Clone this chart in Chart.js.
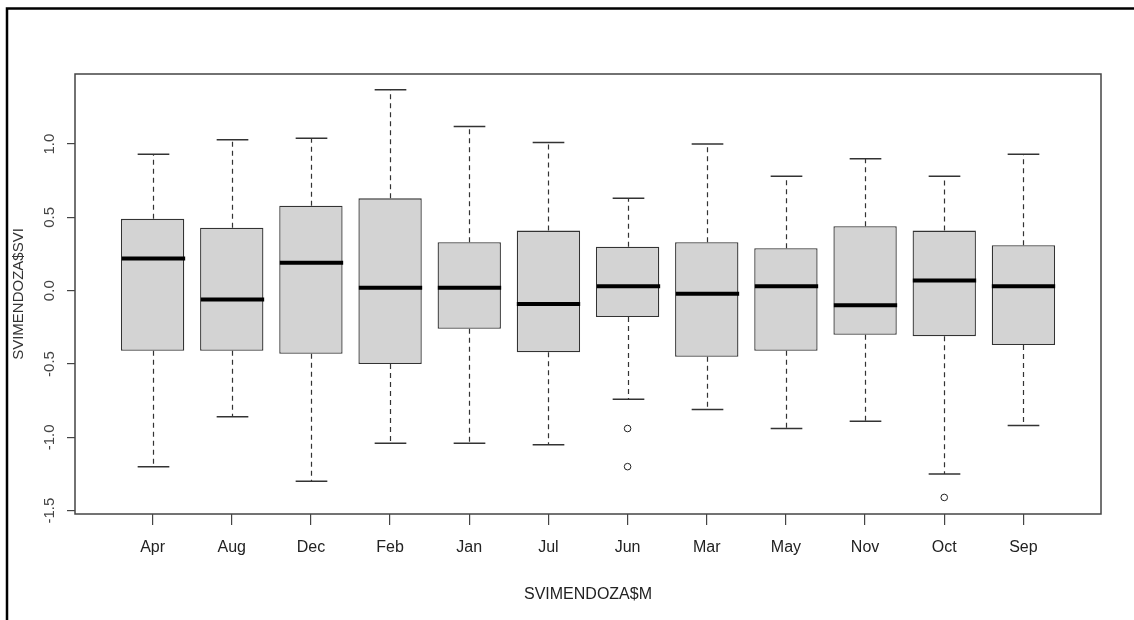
<!DOCTYPE html>
<html>
<head>
<meta charset="utf-8">
<title>SVIMENDOZA boxplot</title>
<script src="https://cdn.jsdelivr.net/npm/chart.js@4.4.0/dist/chart.umd.min.js"></script>
<style>
  html, body { margin: 0; padding: 0; background: #fff; }
  #wrap { width: 1134px; height: 620px; }
</style>
</head>
<body>
<div id="wrap"><canvas id="chart" width="1134" height="620"></canvas></div>
<script>
// monthly SVI distribution
var months = ["Apr", "Aug", "Dec", "Feb", "Jan", "Jul", "Jun", "Mar", "May", "Nov", "Oct", "Sep"];
var whiskerLow  = [-1.20, -0.86, -1.30, -1.04, -1.04, -1.05, -0.74, -0.81, -0.94, -0.89, -1.25, -0.92];
var q1          = [-0.41, -0.41, -0.43, -0.50, -0.26, -0.42, -0.18, -0.45, -0.41, -0.30, -0.31, -0.37];
var median      = [ 0.22, -0.06,  0.19,  0.02,  0.02, -0.09,  0.03, -0.02,  0.03, -0.10,  0.07,  0.03];
var q3          = [ 0.49,  0.43,  0.58,  0.63,  0.33,  0.41,  0.30,  0.33,  0.29,  0.44,  0.41,  0.31];
var whiskerHigh = [ 0.93,  1.03,  1.04,  1.37,  1.12,  1.01,  0.63,  1.00,  0.78,  0.90,  0.78,  0.93];
var outlierMonth = ["Jun", "Jun", "Oct"];
var outlierValue = [-0.94, -1.20, -1.41];
var yTicks = [-1.5, -1.0, -0.5, 0.0, 0.5, 1.0];

var narrow = "'Liberation Sans Narrow', 'Liberation Sans', Arial, sans-serif";
var plain = "'Liberation Sans', Arial, sans-serif";

var boxExtras = {
  id: 'boxExtras',
  beforeDraw: function(chart) {
    var ctx = chart.ctx;
    ctx.save();
    ctx.fillStyle = '#fff';
    ctx.fillRect(0, 0, chart.width, chart.height);
    // outer frame (only top and left visible)
    ctx.strokeStyle = '#000';
    ctx.lineWidth = 2.5;
    ctx.beginPath();
    ctx.moveTo(7, chart.height);
    ctx.lineTo(7, 8.5);
    ctx.lineTo(chart.width, 8.5);
    ctx.stroke();
    ctx.restore();
  },
  afterDatasetsDraw: function(chart) {
    var ctx = chart.ctx;
    var xs = chart.scales.x, ys = chart.scales.y;
    var half = xs.getPixelForValue(1.4) - xs.getPixelForValue(1);
    var cap = half / 2;
    ctx.save();
    months.forEach(function(m, i) {
      var cx = Math.round(xs.getPixelForValue(i + 1)) + 0.5;
      // dashed whiskers
      ctx.strokeStyle = '#333';
      ctx.lineWidth = 1.2;
      ctx.setLineDash([5, 4]);
      ctx.beginPath();
      ctx.moveTo(cx, ys.getPixelForValue(q3[i]));
      ctx.lineTo(cx, ys.getPixelForValue(whiskerHigh[i]));
      ctx.moveTo(cx, ys.getPixelForValue(q1[i]));
      ctx.lineTo(cx, ys.getPixelForValue(whiskerLow[i]));
      ctx.stroke();
      // caps
      ctx.setLineDash([]);
      ctx.lineWidth = 1.5;
      ctx.beginPath();
      ctx.moveTo(cx - cap, ys.getPixelForValue(whiskerHigh[i]));
      ctx.lineTo(cx + cap, ys.getPixelForValue(whiskerHigh[i]));
      ctx.moveTo(cx - cap, ys.getPixelForValue(whiskerLow[i]));
      ctx.lineTo(cx + cap, ys.getPixelForValue(whiskerLow[i]));
      ctx.stroke();
      // median
      ctx.strokeStyle = '#000';
      ctx.lineWidth = 4;
      ctx.beginPath();
      ctx.moveTo(cx - half, ys.getPixelForValue(median[i]));
      ctx.lineTo(cx + half, ys.getPixelForValue(median[i]));
      ctx.stroke();
    });
    // plot box
    var a = chart.chartArea;
    ctx.strokeStyle = '#444';
    ctx.lineWidth = 1.5;
    ctx.strokeRect(a.left, a.top, a.right - a.left, a.bottom - a.top);
    ctx.restore();
  }
};

var datos = {
  type: 'bar',
  data: {
    datasets: [{
      type: 'bar',
      data: months.map(function(m, i) { return { x: i + 1, y: [q1[i], q3[i]] }; }),
      backgroundColor: '#d3d3d3',
      borderColor: '#333',
      borderWidth: 1.3,
      borderSkipped: false,
      barPercentage: 0.8,
      categoryPercentage: 1
    }, {
      type: 'scatter',
      data: outlierMonth.map(function(m, i) { return { x: months.indexOf(m) + 1, y: outlierValue[i] }; }),
      pointStyle: 'circle',
      pointRadius: 3.3,
      borderColor: '#222',
      backgroundColor: 'rgba(0,0,0,0)',
      borderWidth: 1
    }]
  },
  options: {
    responsive: false,
    animation: false,
    devicePixelRatio: 1,
    layout: { padding: { left: 0, top: 74, right: 33, bottom: 0 } },
    plugins: { legend: { display: false }, tooltip: { enabled: false } },
    scales: {
      x: {
        type: 'linear',
        min: 0.02,
        max: 12.98,
        offset: false,
        afterBuildTicks: function(s) { s.ticks = months.map(function(m, i) { return { value: i + 1 }; }); },
        afterFit: function(s) { s.height = 106; },
        ticks: {
          autoSkip: false,
          maxRotation: 0,
          padding: 13,
          color: '#222',
          font: { family: narrow, size: 16 },
          callback: function(v) { return months[v - 1]; }
        },
        grid: { offset: false, drawOnChartArea: false, drawTicks: true, tickLength: 11, color: '#444', lineWidth: 1.2 },
        border: { display: false },
        title: { display: true, text: 'SVIMENDOZA$M', color: '#222', font: { family: narrow, size: 16 }, padding: { top: 0, bottom: 16 } }
      },
      y: {
        type: 'linear',
        min: -1.523,
        max: 1.478,
        afterBuildTicks: function(s) { s.ticks = yTicks.map(function(v) { return { value: v }; }); },
        afterFit: function(s) { s.width = 75; },
        ticks: {
          minRotation: 90,
          maxRotation: 90,
          crossAlign: 'center',
          padding: 4,
          color: '#444',
          font: { family: plain, size: 15 },
          callback: function(v) { return v.toFixed(1); }
        },
        grid: { drawOnChartArea: false, drawTicks: true, tickLength: 8, color: '#444', lineWidth: 1.2 },
        border: { display: false },
        title: { display: true, text: 'SVIMENDOZA$SVI', color: '#333', font: { family: plain, size: 15 }, padding: { top: 10, bottom: 0 } }
      }
    }
  },
  plugins: [boxExtras]
};

var ctx = document.getElementById('chart').getContext('2d');
window.box = new Chart(ctx, datos);
</script>
</body>
</html>
